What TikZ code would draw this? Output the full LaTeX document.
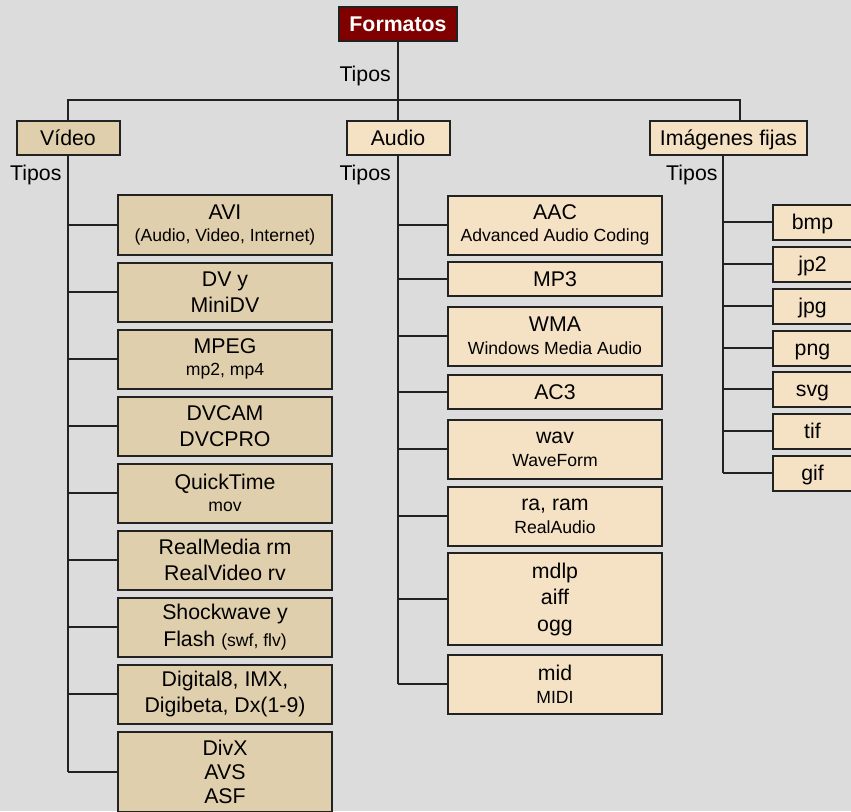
\documentclass[tikz,border=0pt]{standalone}
\usepackage{fontspec}
\setmainfont{Liberation Sans}
\definecolor{bg}{RGB}{220,220,220}
\definecolor{vidfill}{RGB}{224,207,172}
\definecolor{audfill}{RGB}{245,226,196}
\definecolor{topfill}{RGB}{128,0,0}
\definecolor{ink}{RGB}{34,34,34}
\newcommand{\mainsz}{\fontsize{21.3}{26.5}\selectfont}
\newcommand{\subsz}{\fontsize{17.6}{21}\selectfont}
\tikzset{
  box/.style={draw=ink, line width=2pt, rectangle, inner sep=0pt, align=center, font=\mainsz, text=black},
  vbox/.style={box, fill=vidfill, minimum width=214pt},
  abox/.style={box, fill=audfill, minimum width=214pt},
  ibox/.style={box, fill=audfill, minimum width=79pt, minimum height=35pt, text height=15.4pt, text depth=1.4pt},
  hbox/.style={box, minimum height=34pt, text height=15.4pt, text depth=1.2pt},
  conn/.style={draw=ink, line width=2pt},
  lbl/.style={font=\mainsz, inner sep=0pt}
}
\begin{document}
\begin{tikzpicture}[x=1pt,y=-1pt]
\useasboundingbox (0,0) rectangle (851,811);
\fill[bg] (0,0) rectangle (851,811);
\clip (0,0) rectangle (851,811);

% top
\node[hbox, fill=topfill, text=white, font=\mainsz\bfseries, minimum width=118pt] (form) at (398,24) {Formatos};
\node[hbox, fill=vidfill, minimum width=103pt] (vid) at (68,138) {Vídeo};
\node[hbox, fill=audfill, minimum width=103pt] (aud) at (398,138) {Audio};
\node[hbox, fill=audfill, minimum width=157pt] (img) at (728.5,138) {Imágenes fijas};

\coordinate (bar) at (398,100);
\coordinate (imgtop) at (740,121);
\coordinate (imgbar) at (740,100);

\draw[conn] (form.south) -- (aud.north);
\draw[conn] (vid.north) -- (vid.north |- bar) -- (imgbar) -- (imgtop);

\node[lbl, anchor=base east] (t0) at (391,81) {Tipos};
\node[lbl, anchor=base west] (t1) at (10,180) {Tipos};
\node[lbl, anchor=base east] (t2) at (391,180) {Tipos};
\node[lbl, anchor=base west] (t3) at (666,180.5) {Tipos};

% video children
\node[vbox, minimum height=60pt] (v1) at (225,225) {AVI\\[-3.8pt]{\subsz (Audio, Video, Internet)}};
\node[vbox, minimum height=59pt] (v2) at (225,292) {DV y\\MiniDV};
\node[vbox, minimum height=59pt] (v3) at (225,359) {MPEG\\[-3.8pt]{\subsz mp2, mp4}};
\node[vbox, minimum height=59pt] (v4) at (225,426) {DVCAM\\DVCPRO};
\node[vbox, minimum height=59pt] (v5) at (225,493) {QuickTime\\[-3.8pt]{\subsz mov}};
\node[vbox, minimum height=59pt] (v6) at (225,560) {RealMedia rm\\RealVideo rv};
\node[vbox, minimum height=59pt] (v7) at (225,627) {Shockwave y\\Flash {\subsz (swf, flv)}};
\node[vbox, minimum height=59pt] (v8) at (225,694) {Digital8, IMX,\\Digibeta, Dx(1-9)};
\node[vbox, minimum height=80pt] (v9) at (225,772) {DivX\\[-2.5pt]AVS\\[-2.5pt]ASF};

\coordinate (vend) at (68,772);
\draw[conn] (vid.south) -- (vend);
\foreach \n in {v1,v2,v3,v4,v5,v6,v7,v8,v9}
  \draw[conn] (\n.west) -- (\n.west -| vend);

% audio children
\node[abox, minimum height=59pt] (a1) at (555,225) {AAC\\[-3.8pt]{\subsz Advanced Audio Coding}};
\node[abox, minimum height=34pt] (a2) at (555,279) {MP3};
\node[abox, minimum height=59pt] (a3) at (555,336) {WMA\\[-3.8pt]{\subsz Windows Media Audio}};
\node[abox, minimum height=34pt] (a4) at (555,392) {AC3};
\node[abox, minimum height=59pt] (a5) at (555,449) {wav\\[-3.8pt]{\subsz WaveForm}};
\node[abox, minimum height=59pt] (a6) at (555,516) {ra, ram\\[-3.8pt]{\subsz RealAudio}};
\node[abox, minimum height=92pt] (a7) at (555,599) {mdlp\\aiff\\ogg};
\node[abox, minimum height=59pt] (a8) at (555,684) {mid\\[-3.8pt]{\subsz MIDI}};

\coordinate (aend) at (398,684);
\draw[conn] (aud.south) -- (aend);
\foreach \n in {a1,a2,a3,a4,a5,a6,a7,a8}
  \draw[conn] (\n.west) -- (\n.west -| aend);

% image children
\node[ibox] (i1) at (812.5,222) {bmp};
\node[ibox] (i2) at (812.5,264) {jp2};
\node[ibox] (i3) at (812.5,306) {jpg};
\node[ibox] (i4) at (812.5,348) {png};
\node[ibox] (i5) at (812.5,389) {svg};
\node[ibox] (i6) at (812.5,431) {tif};
\node[ibox] (i7) at (812.5,473) {gif};

\coordinate (itop) at (723,155);
\coordinate (iend) at (723,473);
\draw[conn] (itop) -- (iend);
\foreach \n in {i1,i2,i3,i4,i5,i6,i7}
  \draw[conn] (\n.west) -- (\n.west -| iend);
\end{tikzpicture}
\end{document}
